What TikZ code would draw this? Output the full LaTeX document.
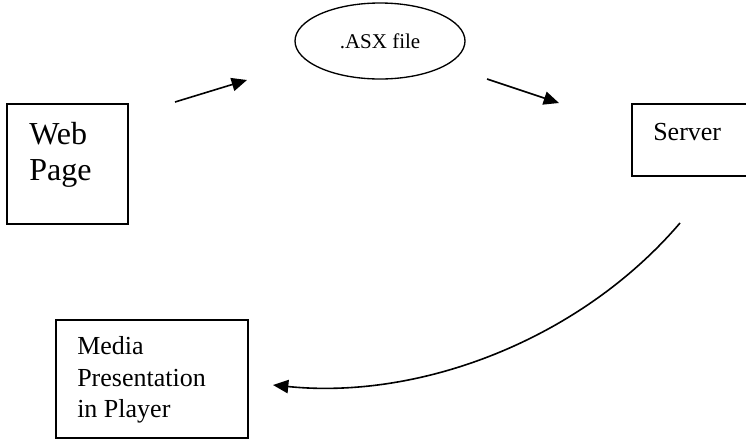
\documentclass[tikz,border=0pt]{standalone}
\usepackage{fontspec}
\setmainfont{Liberation Serif}
\usetikzlibrary{arrows.meta, shapes.geometric}

\begin{document}
\begin{tikzpicture}[
    x=0.75pt,
    y=-0.75pt,
    >={Triangle[length=11.5pt, width=10pt]},
    box/.style={
        draw,
        line width=1.3pt,
        inner sep=0pt
    },
    oval/.style={
        draw,
        ellipse,
        line width=1pt,
        inner sep=0pt,
        minimum width=127.5pt,
        minimum height=57pt,
        font=\fontsize{15.75}{18}\selectfont
    },
    txt/.style={
        inner sep=0pt,
        align=left,
        font=\fontsize{19.5}{23.6}\selectfont
    },
    bigtxt/.style={
        inner sep=0pt,
        align=left,
        font=\fontsize{24}{26.3}\selectfont
    },
    arr/.style={->, line width=1.2pt}
]
\useasboundingbox (0,0) rectangle (746,440);

% Web Page
\node[box, minimum width=90.75pt, minimum height=90pt] (web) at (67.5,164) {};
\node[bigtxt, anchor=north west] (webtxt) at (29,122.5) {Web\\Page};

% .ASX file
\node[oval] (asx) at (380,41) {.ASX file};

% Server (runs off the right edge)
\node[box, minimum width=90pt, minimum height=54pt] (server) at (692,140) {};
\node[txt, anchor=base west] (servertxt) at (653,140) {Server};

% Media Presentation in Player
\node[box, minimum width=144pt, minimum height=88.5pt] (media) at (152,379) {};
\node[txt, anchor=north west] (mediatxt) at (77,336.5) {Media\\Presentation\\in Player};

% free ends of the arrows
\coordinate (webout) at (175,102);
\coordinate (asxin) at (247,80);
\coordinate (asxout) at (487,79);
\coordinate (serverin) at (559,103);
\coordinate (serverout) at (680,223);
\coordinate (mediain) at (273,385);

\draw[arr] (webout) -- (asxin);
\draw[arr] (asxout) -- (serverin);
\draw[arr] (serverout) .. controls (580,340) and (420,400) .. (mediain);

\end{tikzpicture}
\end{document}
